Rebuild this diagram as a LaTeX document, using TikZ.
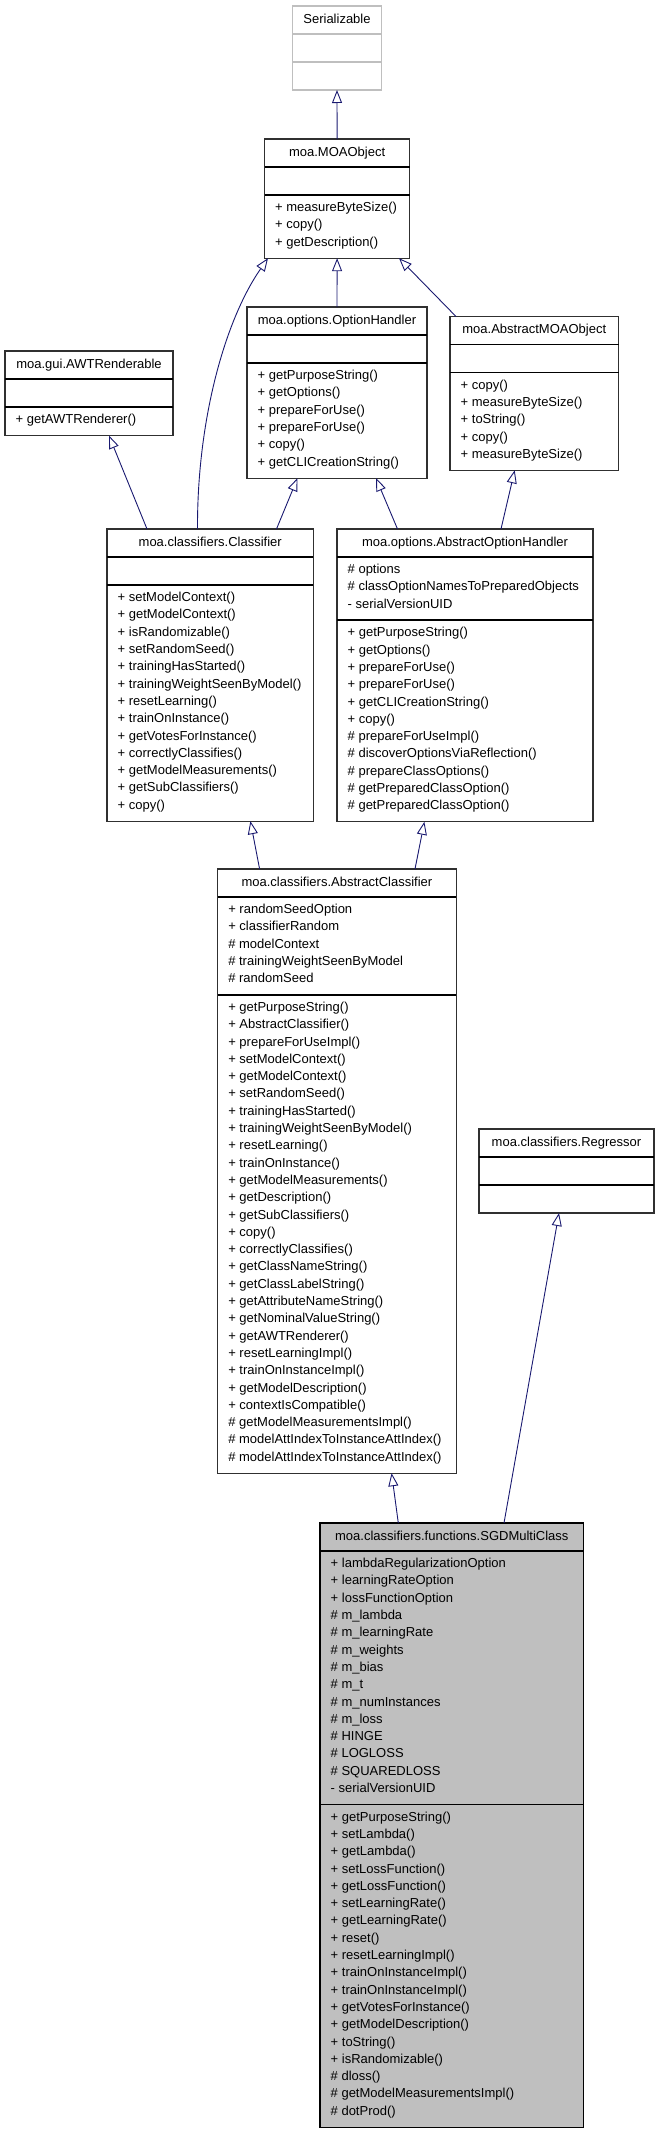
\documentclass[tikz,border=0pt]{standalone}
\usepackage{fontspec}
\setmainfont{Liberation Sans}
\usetikzlibrary{arrows.meta}
\definecolor{edgeblue}{HTML}{191970}
\definecolor{sgdfill}{HTML}{BFBFBF}
\definecolor{extgray}{HTML}{BFBFBF}
\definecolor{boxline}{HTML}{303030}

\newcommand\ucheight[1]{((#1)==0 ? 28 : (28.6+((#1)-1)*17.3))}

% #1 name, #2 x1, #3 x2, #4 top, #5 nattr, #6 nmeth, #7 style
\newcommand\umlbox[7]{%
  \pgfmathsetmacro\ubw{#3-#2}%
  \pgfmathsetmacro\ubh{28+\ucheight{#5}+\ucheight{#6}}%
  \node[#7, minimum width=\ubw pt, minimum height=\ubh pt, anchor=north west] (#1) at (#2,#4) {};%
  \xdef\ucx{#2}\xdef\ucxr{#3}\xdef\ucy{#4}%
}
% #1 title, #2 separator style
\newcommand\uctitle[2]{%
  \node[ctitle] at ({(\ucx+\ucxr)/2},{\ucy+14}) {#1};%
  \pgfmathsetmacro\ucnext{\ucy+28}\xdef\ucy{\ucnext}%
  \draw[#2] (\ucx,\ucy) -- (\ucxr,\ucy);%
}
% #1 rows, #2 separator style (empty: none)
\newcommand\uccomp[2]{%
  \if\relax\detokenize{#1}\relax
    \pgfmathsetmacro\ucnext{\ucy+28}%
  \else
    \xdef\ucrow{0}%
    \foreach \r in {#1}{%
      \node[crow] at ({\ucx+10.5},{\ucy+13.3+\ucrow*17.3}) {\r};%
      \pgfmathtruncatemacro\ucrt{\ucrow+1}\xdef\ucrow{\ucrt}%
    }%
    \pgfmathsetmacro\ucnext{\ucy+28.6+(\ucrow-1)*17.3}%
  \fi
  \xdef\ucy{\ucnext}%
  \if\relax\detokenize{#2}\relax\else
    \draw[#2] (\ucx,\ucy) -- (\ucxr,\ucy);%
  \fi
}

\begin{document}
\begin{tikzpicture}[x=1pt,y=-1pt,
  font=\fontsize{13}{16}\selectfont,
  cbox/.style={draw=boxline, line width=1.1pt, fill=white, inner sep=0pt, outer sep=0pt, rectangle},
  sgdbox/.style={cbox, fill=sgdfill, draw=black},
  extbox/.style={draw=extgray, line width=1.1pt, fill=white, inner sep=0pt, outer sep=0pt, rectangle},
  csep/.style={draw=black, line width=1.6pt},
  extsep/.style={draw=extgray, line width=1.3pt},
  ctitle/.style={anchor=center, inner sep=0pt, text height=9.4pt, text depth=2.7pt},
  crow/.style={anchor=west, inner sep=0pt, text height=9.4pt, text depth=2.7pt},
  inh/.style={draw=edgeblue, line width=0.9pt, -{Triangle[fill=white,length=13pt,width=10pt]}}
]
\useasboundingbox (0,0) rectangle (659,2133);

% Serializable
\umlbox{ser}{292.5}{381.5}{6}{0}{0}{extbox}
\uctitle{Serializable}{extsep}
\uccomp{}{extsep}
\uccomp{}{}

% moa.MOAObject
\umlbox{moa}{264.5}{409.7}{139}{0}{3}{cbox}
\uctitle{moa.MOAObject}{csep}
\uccomp{}{csep}
\uccomp{+ measureByteSize(),+ copy(),+ getDescription()}{}

% moa.options.OptionHandler
\umlbox{opt}{247}{427}{307}{0}{6}{cbox}
\uctitle{moa.options.OptionHandler}{csep}
\uccomp{}{csep}
\uccomp{+ getPurposeString(),+ getOptions(),+ prepareForUse(),+ prepareForUse(),+ copy(),+ getCLICreationString()}{}

% moa.AbstractMOAObject
\umlbox{amo}{450}{618.5}{316.5}{0}{5}{cbox}
\uctitle{moa.AbstractMOAObject}{csep}
\uccomp{}{csep}
\uccomp{+ copy(),+ measureByteSize(),+ toString(),+ copy(),+ measureByteSize()}{}

% moa.gui.AWTRenderable
\umlbox{awt}{5}{173}{351}{0}{1}{cbox}
\uctitle{moa.gui.AWTRenderable}{csep}
\uccomp{}{csep}
\uccomp{+ getAWTRenderer()}{}

% moa.classifiers.Classifier
\umlbox{cls}{107}{313.4}{529}{0}{13}{cbox}
\uctitle{moa.classifiers.Classifier}{csep}
\uccomp{}{csep}
\uccomp{+ setModelContext(),+ getModelContext(),+ isRandomizable(),+ setRandomSeed(),+ trainingHasStarted(),+ trainingWeightSeenByModel(),+ resetLearning(),+ trainOnInstance(),+ getVotesForInstance(),+ correctlyClassifies(),+ getModelMeasurements(),+ getSubClassifiers(),+ copy()}{}

% moa.options.AbstractOptionHandler
\umlbox{aoh}{337}{593}{529}{3}{11}{cbox}
\uctitle{moa.options.AbstractOptionHandler}{csep}
\uccomp{\# options,\# classOptionNamesToPreparedObjects,- serialVersionUID}{csep}
\uccomp{+ getPurposeString(),+ getOptions(),+ prepareForUse(),+ prepareForUse(),+ getCLICreationString(),+ copy(),\# prepareForUseImpl(),\# discoverOptionsViaReflection(),\# prepareClassOptions(),\# getPreparedClassOption(),\# getPreparedClassOption()}{}

% moa.classifiers.AbstractClassifier
\umlbox{ac}{217.6}{456.3}{869}{5}{27}{cbox}
\uctitle{moa.classifiers.AbstractClassifier}{csep}
\uccomp{+ randomSeedOption,+ classifierRandom,\# modelContext,\# trainingWeightSeenByModel,\# randomSeed}{csep}
\uccomp{+ getPurposeString(),+ AbstractClassifier(),+ prepareForUseImpl(),+ setModelContext(),+ getModelContext(),+ setRandomSeed(),+ trainingHasStarted(),+ trainingWeightSeenByModel(),+ resetLearning(),+ trainOnInstance(),+ getModelMeasurements(),+ getDescription(),+ getSubClassifiers(),+ copy(),+ correctlyClassifies(),+ getClassNameString(),+ getClassLabelString(),+ getAttributeNameString(),+ getNominalValueString(),+ getAWTRenderer(),+ resetLearningImpl(),+ trainOnInstanceImpl(),+ getModelDescription(),+ contextIsCompatible(),\# getModelMeasurementsImpl(),\# modelAttIndexToInstanceAttIndex(),\# modelAttIndexToInstanceAttIndex()}{}

% moa.classifiers.Regressor
\umlbox{reg}{479}{654}{1129}{0}{0}{cbox}
\uctitle{moa.classifiers.Regressor}{csep}
\uccomp{}{csep}
\uccomp{}{}

% moa.classifiers.functions.SGDMultiClass
\umlbox{sgd}{320}{583.6}{1523}{14}{18}{sgdbox}
\uctitle{moa.classifiers.functions.SGDMultiClass}{csep}
\uccomp{+ lambdaRegularizationOption,+ learningRateOption,+ lossFunctionOption,\# m\_lambda,\# m\_learningRate,\# m\_weights,\# m\_bias,\# m\_t,\# m\_numInstances,\# m\_loss,\# HINGE,\# LOGLOSS,\# SQUAREDLOSS,- serialVersionUID}{csep}
\uccomp{+ getPurposeString(),+ setLambda(),+ getLambda(),+ setLossFunction(),+ getLossFunction(),+ setLearningRate(),+ getLearningRate(),+ reset(),+ resetLearningImpl(),+ trainOnInstanceImpl(),+ trainOnInstanceImpl(),+ getVotesForInstance(),+ getModelDescription(),+ toString(),+ isRandomizable(),\# dloss(),\# getModelMeasurementsImpl(),\# dotProd()}{}

% inheritance connectors
\draw[inh] (moa.north) -- (ser.south);
\draw[inh] (opt.north) -- (moa.south);
\draw[inh] ([xshift=6pt]amo.north west) -- ([xshift=134.5pt]moa.south west);
\draw[inh] ([xshift=90.5pt]cls.north west) .. controls (197,420) and (225,320) .. ([xshift=3.5pt]moa.south west);
\draw[inh] ([xshift=40pt]cls.north west) -- ([xshift=104pt]awt.south west);
\draw[inh] ([xshift=169.5pt]cls.north west) -- ([xshift=50.5pt]opt.south west);
\draw[inh] ([xshift=60.5pt]aoh.north west) -- ([xshift=129pt]opt.south west);
\draw[inh] ([xshift=164pt]aoh.north west) -- ([xshift=64.7pt]amo.south west);
\draw[inh] ([xshift=42pt]ac.north west) -- ([xshift=143.4pt]cls.south west);
\draw[inh] ([xshift=197.4pt]ac.north west) -- ([xshift=87.4pt]aoh.south west);
\draw[inh] ([xshift=78.3pt]sgd.north west) -- ([xshift=174pt]ac.south west);
\draw[inh] ([xshift=184pt]sgd.north west) -- ([xshift=80pt]reg.south west);
\end{tikzpicture}
\end{document}
